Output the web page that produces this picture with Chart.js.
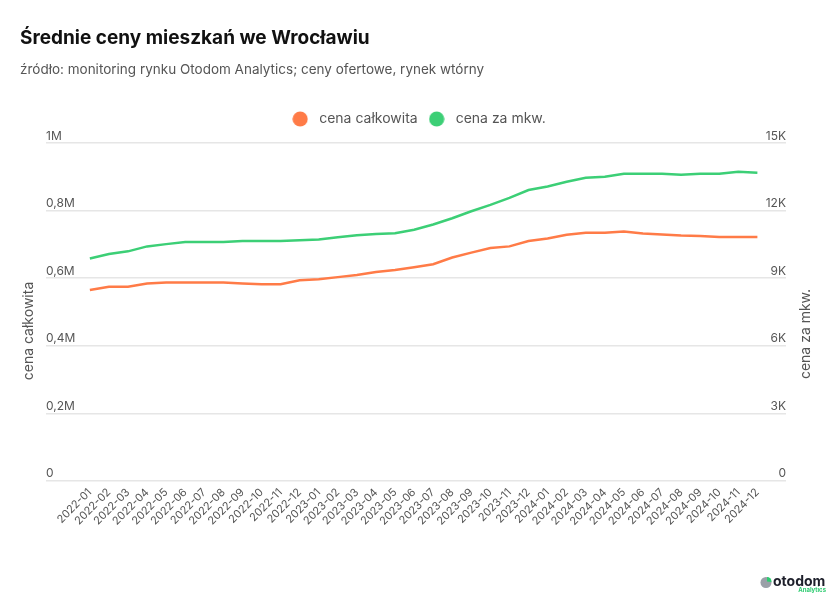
<!DOCTYPE html>
<html>
<head>
<meta charset="utf-8">
<script src="https://cdn.jsdelivr.net/npm/chart.js@4"></script>
<style>
  html, body { margin: 0; padding: 0; background: #ffffff; }
  #wrap { width: 834px; height: 600px; position: relative; }
</style>
</head>
<body>
<div id="wrap"><canvas id="c" width="834" height="600"></canvas></div>
<script>
const months = ['2022-01','2022-02','2022-03','2022-04','2022-05','2022-06','2022-07','2022-08','2022-09','2022-10','2022-11','2022-12',
                '2023-01','2023-02','2023-03','2023-04','2023-05','2023-06','2023-07','2023-08','2023-09','2023-10','2023-11','2023-12',
                '2024-01','2024-02','2024-03','2024-04','2024-05','2024-06','2024-07','2024-08','2024-09','2024-10','2024-11','2024-12'];
const totalPrice = [564700, 574500, 574500, 584000, 587000, 587000, 587000, 587000, 584000, 582000, 582000, 594000,
                    597000, 603000, 609000, 618000, 624000, 632000, 641000, 661000, 675500, 689000, 694000, 710000,
                    717600, 728400, 734000, 734000, 738000, 732000, 729000, 726000, 724500, 721600, 721600, 721600];
const pricePerSqm = [9870, 10070, 10190, 10410, 10510, 10600, 10600, 10600, 10650, 10650, 10650, 10680,
                     10720, 10820, 10900, 10960, 10990, 11150, 11380, 11660, 11970, 12250, 12560, 12910,
                     13070, 13280, 13460, 13500, 13630, 13630, 13630, 13590, 13630, 13630, 13720, 13680];
const leftTicks = ['0', '0,2M', '0,4M', '0,6M', '0,8M', '1M'];
const rightTicks = ['0', '3K', '6K', '9K', '12K', '15K'];
const seriesNames = ['cena całkowita', 'cena za mkw.'];

const ORANGE = '#ff7b47';
const GREEN = '#3ccf76';
const FONT = 'Inter, "Noto Sans", sans-serif';

function dot(color) {
  const c = document.createElement('canvas');
  c.width = 16; c.height = 16;
  const x = c.getContext('2d');
  x.fillStyle = color;
  x.beginPath(); x.arc(8, 8, 7.6, 0, Math.PI * 2); x.fill();
  return c;
}

const legendMargin = {
  id: 'legendMargin',
  beforeInit(chart) {
    const fit = chart.legend.fit;
    chart.legend.fit = function () { fit.bind(chart.legend)(); this.height += 7; };
  }
};

const extras = {
  id: 'extras',
  afterDraw(chart) {
    const ctx = chart.ctx;
    ctx.save();
    ctx.fillStyle = '#555';
    ctx.font = '14px ' + FONT;
    ctx.textAlign = 'center';
    ctx.textBaseline = 'middle';
    ctx.translate(29, 331); ctx.rotate(-Math.PI / 2);
    ctx.fillText('cena całkowita', 0, 0);
    ctx.restore();
    ctx.save();
    ctx.fillStyle = '#555';
    ctx.font = '14px ' + FONT;
    ctx.textAlign = 'center';
    ctx.textBaseline = 'middle';
    ctx.translate(806, 334); ctx.rotate(-Math.PI / 2);
    ctx.fillText('cena za mkw.', 0, 0);
    ctx.restore();
    // logo
    ctx.save();
    ctx.fillStyle = '#9aa0a8';
    ctx.beginPath(); ctx.arc(766, 582.5, 5.5, 0, Math.PI * 2); ctx.fill();
    ctx.fillStyle = '#2ecc71';
    ctx.beginPath(); ctx.moveTo(767, 581.5); ctx.arc(767, 581.5, 4.5, -Math.PI / 2, 0.1); ctx.closePath(); ctx.fill();
    ctx.fillStyle = '#1d1f2a';
    ctx.font = 'bold 14px ' + FONT;
    ctx.textAlign = 'left';
    ctx.textBaseline = 'middle';
    ctx.fillText('otodom', 773, 582);
    ctx.fillStyle = '#2ecc71';
    ctx.font = 'bold 6px ' + FONT;
    ctx.textAlign = 'right';
    ctx.fillText('Analytics', 826, 590.5);
    ctx.restore();
  }
};

new Chart(document.getElementById('c'), {
  type: 'line',
  data: {
    datasets: [
      { label: seriesNames[0], data: totalPrice.map((v, i) => ({ x: i, y: v })), yAxisID: 'yL',
        borderColor: ORANGE, backgroundColor: ORANGE, borderWidth: 2.5, pointRadius: 0, pointHoverRadius: 0,
        pointStyle: dot(ORANGE), tension: 0 },
      { label: seriesNames[1], data: pricePerSqm.map((v, i) => ({ x: i, y: v })), yAxisID: 'yR',
        borderColor: GREEN, backgroundColor: GREEN, borderWidth: 2.5, pointRadius: 0, pointHoverRadius: 0,
        pointStyle: dot(GREEN), tension: 0 }
    ]
  },
  options: {
    responsive: false,
    animation: false,
    layout: { padding: { left: 20, right: 20, top: 0, bottom: 67 } },
    plugins: {
      title: { display: true, text: 'Średnie ceny mieszkań we Wrocławiu', align: 'start', color: '#111',
               font: { family: FONT, size: 19, weight: 'bold' }, padding: { top: 27, bottom: 12 } },
      subtitle: { display: true, text: 'źródło: monitoring rynku Otodom Analytics; ceny ofertowe, rynek wtórny', align: 'start',
                  color: '#555', font: { family: FONT, size: 13.5 }, padding: { top: 0, bottom: 27 } },
      legend: { display: true, position: 'top', align: 'center',
                labels: { usePointStyle: true, pointStyleWidth: 24, padding: 7, color: '#555',
                          font: { family: FONT, size: 14 } } },
      tooltip: { enabled: false }
    },
    scales: {
      x: {
        type: 'linear', min: -2.3, max: 36.5,
        afterBuildTicks: (s) => { s.ticks = months.map((_, i) => ({ value: i })); },
        ticks: { autoSkip: false, minRotation: 45, maxRotation: 45, padding: 5, color: '#555',
                 font: { family: FONT, size: 11 }, callback: (v) => months[v] },
        grid: { display: false, drawTicks: false },
        border: { display: false }
      },
      yL: {
        position: 'left', min: 0, max: 1000000,
        afterBuildTicks: (s) => { s.ticks = leftTicks.map((_, i) => ({ value: i * 200000 })); },
        afterFit: (s) => { s.width = 26; },
        ticks: { mirror: true, padding: 0, labelOffset: -7, color: '#555', font: { family: FONT, size: 12 },
                 callback: (v) => leftTicks[Math.round(v / 200000)] },
        grid: { color: '#e6e6e6', lineWidth: 1.5, drawTicks: false },
        border: { display: false }
      },
      yR: {
        position: 'right', min: 0, max: 15000,
        afterBuildTicks: (s) => { s.ticks = rightTicks.map((_, i) => ({ value: i * 3000 })); },
        afterFit: (s) => { s.width = 28; },
        ticks: { mirror: true, padding: 0, labelOffset: -7, color: '#555', font: { family: FONT, size: 12 },
                 callback: (v) => rightTicks[Math.round(v / 3000)] },
        grid: { display: false, drawTicks: false },
        border: { display: false }
      }
    }
  },
  plugins: [legendMargin, extras]
});
</script>
</body>
</html>
